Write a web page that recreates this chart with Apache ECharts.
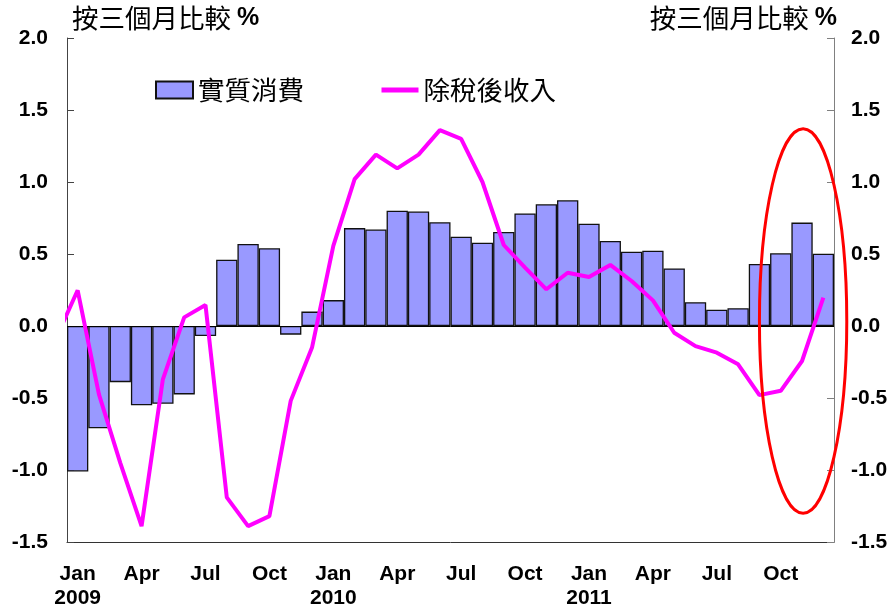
<!DOCTYPE html>
<html>
<head>
<meta charset="utf-8">
<script src="https://cdn.jsdelivr.net/npm/echarts@6/dist/echarts.min.js"></script>
<style>
  html, body { margin: 0; padding: 0; background: #fff; }
  #chart { width: 894px; height: 614px; }
</style>
</head>
<body>
<div id="chart"></div>
<script>
// 月份 Jan 2009 - Dec 2011
const months = [];
for (let y = 2009; y <= 2011; y++) {
  for (let m = 1; m <= 12; m++) months.push(y + '-' + (m < 10 ? '0' + m : m));
}
const monthNames = ['Jan','Feb','Mar','Apr','May','Jun','Jul','Aug','Sep','Oct','Nov','Dec'];

// 實質消費 (bars)
const consumption = [
  -1.01, -0.71, -0.39, -0.55, -0.54, -0.475, -0.07, 0.46, 0.57, 0.54, -0.06, 0.10,
  0.18, 0.68, 0.67, 0.80, 0.795, 0.72, 0.62, 0.578, 0.653, 0.782, 0.845, 0.873,
  0.71, 0.59, 0.516, 0.523, 0.40, 0.165, 0.113, 0.123, 0.431, 0.505, 0.718, 0.502
];
// 除稅後收入 (line) — first value is Dec 2008, cut off by the axis
const incomePrev = -0.08;
const income = [
  0.248, -0.475, -0.95, -1.39, -0.37, 0.06, 0.146, -1.19, -1.39, -1.32, -0.52, -0.15,
  0.556, 1.02, 1.19, 1.095, 1.19, 1.36, 1.30, 1.0, 0.5625, 0.406, 0.255, 0.37,
  0.34, 0.424, 0.3125, 0.178, -0.047, -0.14, -0.185, -0.266, -0.48, -0.45, -0.243, 0.197
];
const yTicks = { min: -1.5, max: 2.0, step: 0.5 };

// red circle round the last months (data units)
const ring = { x: 34.05, y: 0.035, halfW: 2.05, halfH: 1.335 };

const numFont = 'Liberation Sans, Arial, sans-serif';
const cjkFont = 'Noto Sans CJK TC, sans-serif';

let lineData = [[-1, incomePrev]].concat(income.map((v, i) => [i, v]));

const titleStyle = {
  fontSize: 26.5, fontWeight: 'normal', fontFamily: cjkFont, color: '#000',
  rich: {
    pct: { fontSize: 25, fontWeight: 'bold', fontFamily: numFont, color: '#000' }
  }
};

let chart = echarts.init(document.getElementById('chart'));
let option = {
  animation: false,
  backgroundColor: '#fff',
  title: [
    { text: '按三個月比較 {pct|%}', left: 72, top: 5, padding: 0, textStyle: titleStyle },
    { text: '按三個月比較 {pct|%}', right: 57, top: 5, padding: 0, textStyle: titleStyle }
  ],
  legend: {
    left: 155,
    top: 75,
    padding: 0,
    itemWidth: 37,
    itemHeight: 17,
    itemGap: 75,
    textStyle: { fontSize: 26.5, lineHeight: 30, fontFamily: cjkFont, color: '#000' },
    data: [
      { name: '實質消費', icon: 'rect' },
      { name: '除稅後收入', itemStyle: { opacity: 0 }, lineStyle: { width: 5 } }
    ]
  },
  grid: { left: 67, right: 60, top: 38, bottom: 72 },
  xAxis: [
    {
      type: 'category',
      data: months,
      position: 'bottom',
      axisLine: { onZero: false, lineStyle: { color: '#333', width: 1 } },
      axisTick: { inside: true, length: 6, interval: 0, lineStyle: { color: '#333' } },
      axisLabel: {
        interval: 2,
        margin: 20,
        fontSize: 21,
        lineHeight: 24,
        fontWeight: 'bold',
        fontFamily: numFont,
        color: '#000',
        formatter: function (v) {
          let p = v.split('-');
          let m = monthNames[parseInt(p[1], 10) - 1];
          return p[1] === '01' ? m + '\n' + p[0] : m;
        }
      }
    },
    {
      type: 'category',
      data: months,
      position: 'bottom',
      axisLine: { show: false, onZero: false },
      axisTick: { inside: false, length: 6, interval: 2, lineStyle: { color: '#333' } },
      axisLabel: { show: false }
    },
    {
      type: 'value',
      min: -0.5,
      max: 35.5,
      show: false
    }
  ],
  yAxis: [
    {
      type: 'value',
      position: 'left',
      min: yTicks.min, max: yTicks.max, interval: yTicks.step,
      splitLine: { show: false },
      axisLine: { show: true, onZero: false, lineStyle: { color: '#444' } },
      axisTick: { show: true, inside: true, length: 7, lineStyle: { color: '#444' } },
      axisLabel: {
        margin: 19, fontSize: 21, fontWeight: 'bold', fontFamily: numFont, color: '#000',
        formatter: v => v.toFixed(1)
      }
    },
    {
      type: 'value',
      position: 'right',
      min: yTicks.min, max: yTicks.max, interval: yTicks.step,
      splitLine: { show: false },
      axisLine: { show: true, onZero: false, lineStyle: { color: '#808080' } },
      axisTick: { show: true, inside: true, length: 7, lineStyle: { color: '#808080' } },
      axisLabel: {
        margin: 17, fontSize: 21, fontWeight: 'bold', fontFamily: numFont, color: '#000',
        formatter: v => v.toFixed(1)
      }
    }
  ],
  series: [
    {
      name: '實質消費',
      type: 'bar',
      xAxisIndex: 0,
      yAxisIndex: 0,
      barCategoryGap: '0%',
      data: consumption,
      itemStyle: { color: '#9999ff', borderColor: '#111', borderWidth: 1.3 },
      markLine: {
        silent: true,
        symbol: 'none',
        label: { show: false },
        lineStyle: { color: '#000', width: 1, type: 'solid' },
        data: [{ yAxis: 0 }]
      },
      z: 2
    },
    {
      name: '除稅後收入',
      type: 'line',
      xAxisIndex: 2,
      yAxisIndex: 0,
      data: lineData,
      symbol: 'none',
      clip: true,
      lineStyle: { color: '#ff00ff', width: 4 },
      itemStyle: { color: '#ff00ff' },
      z: 5
    }
  ]
};
chart.setOption(option);

// 紅色橢圓
let c = chart.convertToPixel({ xAxisIndex: 2, yAxisIndex: 0 }, [ring.x, ring.y]);
let rx = chart.convertToPixel({ xAxisIndex: 2 }, ring.x + ring.halfW) - c[0];
let ry = c[1] - chart.convertToPixel({ yAxisIndex: 0 }, ring.y + ring.halfH);
chart.setOption({
  graphic: [{
    type: 'ellipse',
    shape: { cx: c[0], cy: c[1], rx: rx, ry: ry },
    style: { fill: 'none', stroke: '#ff0000', lineWidth: 3 },
    z: 100
  }]
});
</script>
</body>
</html>
